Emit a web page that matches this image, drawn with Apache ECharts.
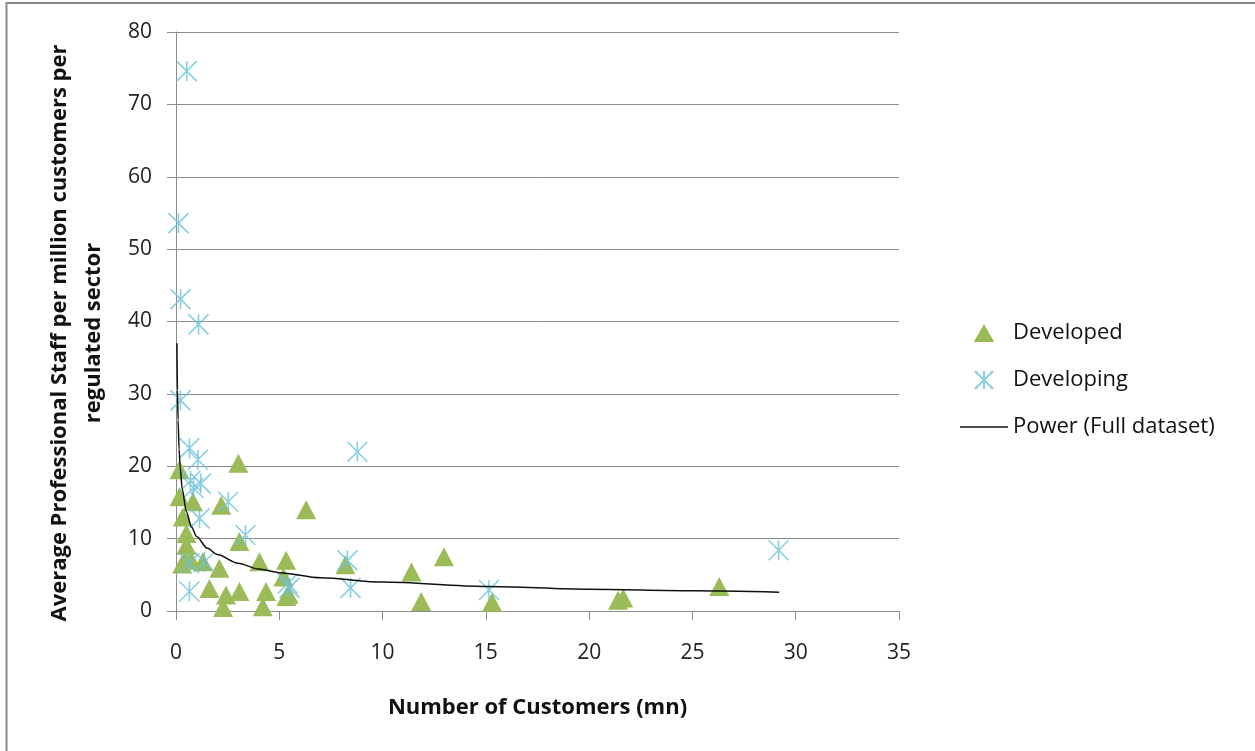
<!DOCTYPE html>
<html>
<head>
<meta charset="utf-8">
<script src="https://cdn.jsdelivr.net/npm/echarts@6/dist/echarts.min.js"></script>
<style>
html,body{margin:0;padding:0;background:#fff;}
#chart{width:1255px;height:751px;}
</style>
</head>
<body>
<div id="chart"></div>
<script>
// Developed: [customers (mn), staff per million customers]
const developed = [
  [0.17,19.5],[3.02,20.4],[0.17,15.8],[0.82,15.1],[2.19,14.6],[6.3,14.0],
  [0.33,13.0],[0.5,10.7],[3.07,9.6],[0.5,9.1],[0.41,7.0],[0.3,6.5],[0.7,7.2],
  [1.3,6.8],[2.1,5.9],[4.04,6.8],[5.33,7.0],[1.62,3.1],[3.07,2.7],[4.36,2.7],
  [2.42,2.2],[5.2,4.7],[5.45,2.3],[5.35,2.0],[2.28,0.5],[4.2,0.6],[8.2,6.4],
  [11.4,5.4],[12.97,7.5],[11.87,1.3],[15.3,1.2],[21.4,1.5],[21.65,1.8],[26.3,3.4]
];
// Developing
const developing = [
  [0.52,74.6],[0.12,53.6],[0.22,43.1],[1.09,39.6],[0.22,29.1],[0.65,22.5],
  [1.06,20.9],[8.78,22.0],[0.7,18.0],[1.2,17.6],[0.85,17.0],[2.53,15.1],
  [1.14,12.8],[3.36,10.5],[0.65,6.6],[1.38,6.8],[0.65,2.7],[5.41,3.8],
  [5.5,3.2],[8.3,7.0],[8.45,3.2],[15.15,2.9],[29.17,8.4]
];
// Power trendline
const trendX = [0.045,0.07,0.1,0.15,0.2,0.3,0.5,0.75,1,1.5,2,3,4,5,7,10,15,20,25,29.2];
const trendY = [37.0,30.5,26.4,22.4,19.9,16.9,13.7,11.6,10.3,8.7,7.8,6.6,5.8,5.3,4.6,4.0,3.4,3.0,2.8,2.6];

const xTicks = [0,5,10,15,20,25,30,35];
const yTicks = [0,10,20,30,40,50,60,70,80];

const seriesNames = ['Developed','Developing','Power (Full dataset)'];
const xTitle = 'Number of Customers (mn)';
const yTitleLines = ['Average Professional Staff per million customers per','regulated sector'];

const FONT = '"Open Sans"';
const GRID = '#8c8c8c';
const asterisk = 'path://M0,0L10,10M10,0L0,10M5,0L5,10';

const trend = trendX.map((x,i)=>[x,trendY[i]]);

const chart = echarts.init(document.getElementById('chart'));
chart.setOption({
  backgroundColor:'#fff',
  animation:false,
  textStyle:{fontFamily:FONT},
  grid:{left:176,right:356,top:32,bottom:140},
  xAxis:{
    type:'value',min:xTicks[0],max:xTicks[xTicks.length-1],interval:5,
    axisLine:{show:true,lineStyle:{color:GRID,width:1}},
    axisTick:{show:true,length:9,lineStyle:{color:GRID}},
    axisLabel:{color:'#222',fontSize:21,margin:32,fontFamily:FONT},
    splitLine:{show:false},
    name:xTitle,nameLocation:'middle',nameGap:86,
    nameTextStyle:{fontSize:22,fontWeight:'bold',color:'#111',fontFamily:FONT}
  },
  yAxis:{
    type:'value',min:yTicks[0],max:yTicks[yTicks.length-1],interval:10,
    axisLine:{show:true,lineStyle:{color:GRID,width:1}},
    axisTick:{show:true,length:9,lineStyle:{color:GRID}},
    axisLabel:{color:'#222',fontSize:21,margin:24,fontFamily:FONT},
    splitLine:{show:true,lineStyle:{color:GRID,width:1}}
  },
  legend:{
    orient:'vertical',left:955,top:317,
    itemWidth:48,itemHeight:18,itemGap:25,
    textStyle:{fontSize:22,color:'#111',fontFamily:FONT},
    data:[
      {name:seriesNames[0],icon:'path://M8,0L16,14L0,14Z'},
      {name:seriesNames[1]},
      {name:seriesNames[2],icon:'path://M0,0L48,0L48,1.4L0,1.4Z'}
    ]
  },
  graphic:[
    {type:'rect',shape:{x:6.5,y:3,width:1300,height:800},
     style:{fill:'none',stroke:'#8a8a8a',lineWidth:2},silent:true},
    {type:'text',x:77,y:333,rotation:Math.PI/2,
     style:{text:yTitleLines.join('\n'),font:'bold 22px '+FONT,fill:'#111',
            align:'center',verticalAlign:'middle',lineHeight:34}}
  ],
  series:[
    {name:seriesNames[0],type:'scatter',data:developed,symbol:'triangle',symbolSize:[20,19],
     itemStyle:{color:'#9BBB59',opacity:1},z:3},
    {name:seriesNames[1],type:'scatter',data:developing,symbol:asterisk,symbolSize:20,
     itemStyle:{color:'rgba(0,0,0,0)',borderColor:'#6CC3DA',borderWidth:1.6},z:4},
    {name:seriesNames[2],type:'line',data:trend,symbol:'none',smooth:0.3,smoothMonotone:'x',
     lineStyle:{color:'#111',width:1.5},itemStyle:{color:'#111'},z:5}
  ]
});
</script>
</body>
</html>
